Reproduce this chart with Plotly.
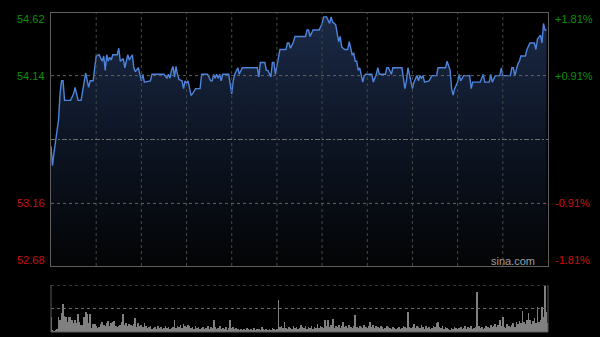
import plotly.graph_objects as go

# ---------------- data ----------------
prev_close = 53.65
y_min, y_max = 52.68, 54.62
left_labels = ["54.62", "54.14", "53.16", "52.68"]
left_values = [54.62, 54.14, 53.16, 52.68]
right_labels = ["+1.81%", "+0.91%", "-0.91%", "-1.81%"]
label_colors = ["#089008", "#089008", "#c81010", "#c81010"]
grid_minutes = [30, 60, 90, 120, 150, 180, 210, 240, 270, 300]
total_minutes = 330

price_minutes = [0, 1, 2, 5, 6, 7, 8, 9, 13, 15, 16, 18, 20, 21, 23, 25, 26, 28, 30, 32, 34, 35, 36, 37, 38, 39,
                 40, 41, 44, 45, 46, 48, 49, 50, 51, 52, 54, 55, 56, 58, 59, 60, 61, 62, 66, 67, 75, 77, 78, 79,
                 80, 81, 82, 83, 84, 85, 87, 88, 89, 90, 91, 92, 93, 94, 96, 99, 100, 104, 106, 107, 108, 109,
                 110, 111, 112, 113, 114, 118, 119, 120, 121, 122, 124, 125, 127, 137, 138, 139, 142, 143, 144,
                 146, 147, 148, 149, 151, 152, 156, 157, 158, 159, 161, 162, 169, 170, 171, 172, 174, 178, 180,
                 181, 183, 185, 186, 187, 189, 190, 191, 192, 193, 195, 197, 198, 200, 201, 202, 203, 204, 205,
                 206, 207, 208, 209, 213, 214, 216, 217, 218, 222, 223, 224, 226, 227, 233, 234, 235, 236, 237,
                 238, 240, 241, 242, 243, 244, 245, 246, 247, 248, 251, 253, 256, 257, 262, 263, 265, 266, 267,
                 268, 270, 271, 272, 274, 278, 279, 280, 285, 287, 288, 291, 292, 293, 295, 298, 299, 300, 305,
                 306, 307, 308, 310, 311, 312, 315, 316, 318, 321, 322, 323, 325, 326, 327, 328, 329]
prices = [53.60, 53.45, 53.55, 53.80, 54.00, 54.10, 54.10, 53.95, 53.95, 54.00, 54.05, 53.95, 53.95, 54.03,
          54.16, 54.05, 54.10, 54.10, 54.29, 54.30, 54.25, 54.29, 54.18, 54.30, 54.25, 54.28, 54.26, 54.30,
          54.30, 54.35, 54.25, 54.27, 54.20, 54.25, 54.30, 54.26, 54.30, 54.20, 54.17, 54.20, 54.15, 54.10,
          54.15, 54.09, 54.10, 54.15, 54.15, 54.12, 54.15, 54.12, 54.18, 54.21, 54.13, 54.21, 54.15, 54.11,
          54.10, 54.04, 54.10, 54.08, 54.10, 54.04, 53.99, 54.00, 54.04, 54.04, 54.15, 54.15, 54.10, 54.10,
          54.15, 54.12, 54.15, 54.12, 54.15, 54.10, 54.15, 54.15, 54.07, 54.00, 54.10, 54.15, 54.20, 54.15,
          54.20, 54.20, 54.13, 54.24, 54.24, 54.18, 54.18, 54.13, 54.24, 54.24, 54.15, 54.29, 54.34, 54.34,
          54.39, 54.39, 54.35, 54.40, 54.44, 54.44, 54.49, 54.49, 54.44, 54.49, 54.49, 54.54, 54.59, 54.59,
          54.54, 54.59, 54.55, 54.53, 54.46, 54.40, 54.44, 54.36, 54.34, 54.34, 54.40, 54.30, 54.31, 54.25,
          54.25, 54.18, 54.20, 54.15, 54.09, 54.14, 54.15, 54.15, 54.09, 54.15, 54.20, 54.15, 54.15, 54.20,
          54.20, 54.15, 54.20, 54.20, 54.13, 54.04, 54.10, 54.20, 54.15, 54.04, 54.09, 54.12, 54.14, 54.10,
          54.14, 54.12, 54.14, 54.09, 54.10, 54.14, 54.14, 54.20, 54.20, 54.25, 54.18, 54.04, 53.99, 54.04,
          54.09, 54.15, 54.10, 54.14, 54.14, 54.04, 54.09, 54.09, 54.15, 54.09, 54.09, 54.15, 54.09, 54.14,
          54.14, 54.20, 54.14, 54.14, 54.20, 54.20, 54.14, 54.23, 54.25, 54.29, 54.29, 54.34, 54.39, 54.39,
          54.34, 54.42, 54.45, 54.39, 54.54, 54.49, 54.49]

volumes = [
    15, 2, 1, 2, 3, 15, 12, 19, 29, 16, 15, 10, 15, 15, 12, 9, 12, 9, 18, 10, 7, 7, 15, 20, 18, 9, 18, 4, 8, 8,
    6, 4, 5, 8, 10, 7, 6, 9, 11, 6, 9, 10, 11, 6, 5, 6, 7, 10, 18, 7, 9, 6, 8, 7, 6, 8, 14, 5, 9, 6,
    7, 5, 9, 6, 4, 5, 6, 3, 4, 5, 3, 6, 4, 5, 3, 4, 6, 4, 5, 3, 4, 5, 12, 4, 6, 5, 7, 4, 8, 6,
    5, 7, 6, 4, 5, 3, 6, 4, 5, 3, 4, 5, 3, 4, 6, 3, 5, 4, 12, 5, 3, 4, 6, 3, 4, 3, 5, 2, 4, 12,
    4, 5, 3, 4, 3, 2, 3, 2, 3, 2, 4, 3, 2, 3, 2, 4, 2, 3, 3, 2, 5, 3, 2, 3, 2, 3, 2, 4, 3, 2,
    3, 33, 5, 6, 4, 10, 4, 3, 5, 4, 3, 6, 4, 5, 3, 4, 7, 5, 4, 6, 3, 5, 4, 6, 3, 5, 4, 8, 4, 6,
    5, 4, 12, 6, 12, 5, 7, 13, 4, 6, 5, 7, 4, 6, 10, 5, 6, 4, 7, 5, 4, 6, 17, 5, 4, 6, 5, 4, 7, 5,
    4, 6, 10, 5, 7, 4, 6, 5, 4, 6, 5, 3, 4, 6, 5, 4, 3, 5, 4, 3, 4, 5, 3, 4, 6, 5, 4, 20, 5, 4,
    5, 8, 4, 6, 5, 4, 7, 5, 3, 6, 4, 5, 3, 4, 6, 5, 9, 10, 5, 4, 6, 3, 5, 4, 3, 2, 4, 3, 5, 4,
    3, 4, 5, 3, 4, 6, 3, 5, 4, 6, 3, 4, 5, 41, 6, 4, 5, 3, 4, 6, 5, 4, 7, 5, 6, 8, 5, 7, 12, 6,
    15, 5, 4, 8, 6, 5, 7, 9, 5, 10, 8, 11, 9, 21, 10, 8, 12, 19, 12, 8, 11, 14, 9, 26, 10, 12, 26, 15, 47, 20, 9,
]
volume_minutes = list(range(len(volumes)))
volume_max = 48

# ---------------- layout constants ----------------
W, H = 600, 337
x_dom = [51 / W, 548 / W]
y_dom = [(H - 266) / H, (H - 13) / H]
y2_dom = [(H - 332) / H, (H - 285) / H]
FONT = "Liberation Sans, Arial, sans-serif"

fig = go.Figure()

fig.add_trace(go.Scatter(
    x=price_minutes, y=prices, mode="lines",
    line=dict(color="#4d84dc", width=1.4),
    fill="tozeroy",
    fillgradient=dict(type="vertical",
                      colorscale=[[0, "#030405"], [0.5, "#0d1524"], [1, "#1b2a47"]],
                      start=y_min, stop=y_max),
    xaxis="x", yaxis="y", hoverinfo="skip", showlegend=False,
))

fig.add_trace(go.Bar(
    x=volume_minutes, y=volumes, width=0.5,
    marker=dict(color="#808080", line=dict(width=0)),
    xaxis="x2", yaxis="y2", hoverinfo="skip", showlegend=False,
))

shapes = []
# vertical grid lines (above the fill)
for m in grid_minutes:
    shapes.append(dict(type="line", xref="x", yref="paper", x0=m, x1=m, y0=y_dom[0], y1=y_dom[1],
                       line=dict(color="#484848", width=1, dash="dot"), layer="above"))
# horizontal grid lines
for v in [54.14, 53.16]:
    shapes.append(dict(type="line", xref="paper", yref="y", x0=x_dom[0], x1=x_dom[1], y0=v, y1=v,
                       line=dict(color="#626262", width=1, dash="dot"), layer="above"))
shapes.append(dict(type="line", xref="paper", yref="y", x0=x_dom[0], x1=x_dom[1], y0=prev_close, y1=prev_close,
                   line=dict(color="#6e6e6e", width=1, dash="5px,2px,2px,2px"), layer="above"))
# volume panel frame
shapes.append(dict(type="line", xref="paper", yref="y2", x0=x_dom[0], x1=x_dom[1], y0=volume_max, y1=volume_max,
                   line=dict(color="#6a6a6a", width=1, dash="dot")))
shapes.append(dict(type="line", xref="paper", yref="y2", x0=x_dom[0], x1=x_dom[1], y0=volume_max / 2, y1=volume_max / 2,
                   line=dict(color="#6a6a6a", width=1, dash="dot")))
shapes.append(dict(type="line", xref="paper", yref="paper", x0=x_dom[0], x1=x_dom[1], y0=y2_dom[0], y1=y2_dom[0],
                   line=dict(color="#5a5a5a", width=1)))
for xd in x_dom:
    shapes.append(dict(type="line", xref="paper", yref="paper", x0=xd, x1=xd, y0=y2_dom[0], y1=y2_dom[1],
                       line=dict(color="#5a5a5a", width=1)))

annotations = []
for lab, rlab, val, col in zip(left_labels, right_labels, left_values, label_colors):
    shift = -6 if val == y_max else (6 if val == y_min else 0)
    annotations.append(dict(text=lab, xref="paper", yref="y", x=47 / W, y=val, yshift=shift,
                            xanchor="right", yanchor="middle", showarrow=False,
                            font=dict(family=FONT, size=11, color=col)))
    annotations.append(dict(text=rlab, xref="paper", yref="y", x=553 / W, y=val, yshift=shift,
                            xanchor="left", yanchor="middle", showarrow=False,
                            font=dict(family=FONT, size=11, color=col)))
annotations.append(dict(text="sina.com", xref="paper", yref="paper", x=537 / W, y=(H - 261) / H,
                        xanchor="right", yanchor="middle", showarrow=False,
                        font=dict(family=FONT, size=11, color="#a0a0a0")))

axis_common = dict(showticklabels=False, ticks="", zeroline=False, showgrid=False)
fig.update_layout(
    width=W, height=H, margin=dict(l=0, r=0, t=0, b=0),
    paper_bgcolor="#000000", plot_bgcolor="#000000",
    xaxis=dict(domain=x_dom, range=[0, total_minutes], anchor="y", showline=True, mirror=True,
               linecolor="#5e5e5e", linewidth=1, **axis_common),
    yaxis=dict(domain=y_dom, range=[y_min, y_max], anchor="x", showline=True, mirror=True,
               linecolor="#5e5e5e", linewidth=1, **axis_common),
    xaxis2=dict(domain=x_dom, range=[0, total_minutes], anchor="y2", showline=False, **axis_common),
    yaxis2=dict(domain=y2_dom, range=[0, volume_max], anchor="x2", showline=False, **axis_common),
    shapes=shapes, annotations=annotations, bargap=0,
)

fig.write_html("out.html")
